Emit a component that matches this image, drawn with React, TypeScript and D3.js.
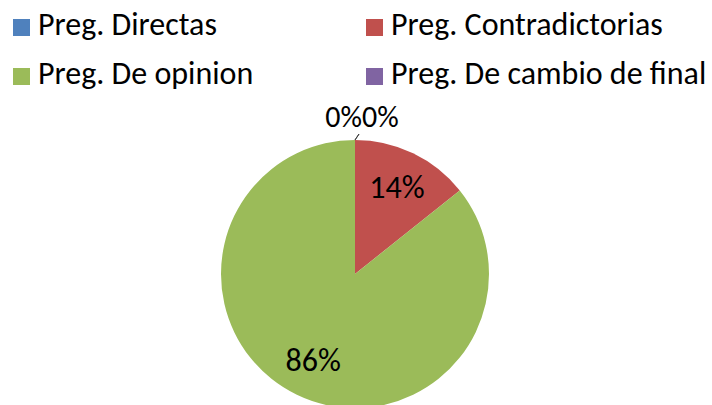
import React, { useEffect, useRef } from 'react';
import * as d3 from 'd3';

const categories = ['Preg. Directas', 'Preg. Contradictorias', 'Preg. De opinion', 'Preg. De cambio de final'];
const values = [0, 1, 6, 0];
const colors = ['#4F81BD', '#C0504D', '#9BBB59', '#8064A2'];

const App = () => {
  const svg = useRef(null);
  const width = 712;
  const height = 405;
  const cx = 355;
  const cy = 274;
  const radius = 134;
  const font = "Calibri, Carlito, 'Noto Sans', sans-serif";

  const renderChart = (svgSel: any) => {
    svgSel.selectAll('*').remove();
    const total = d3.sum(values);
    const pie = d3.pie<number>().sort(null).value(d => d);
    const arcs = pie(values);
    const arc = d3.arc<any>().innerRadius(0).outerRadius(radius);
    const labelArc = d3.arc<any>().innerRadius(radius * 0.72).outerRadius(radius * 0.72);

    const g = svgSel.append('g').attr('transform', `translate(${cx},${cy})`);

    g.selectAll('.slice')
      .data(arcs)
      .enter()
      .append('path')
      .attr('class', 'slice')
      .attr('d', arc)
      .attr('fill', (d: any, i: number) => colors[i]);

    const pct = (v: number) => `${Math.round((v / total) * 100)}%`;

    arcs.forEach((d: any, i: number) => {
      if (d.value > 0) {
        const [x, y] = labelArc.centroid(d);
        g.append('text')
          .attr('x', x)
          .attr('y', y)
          .attr('text-anchor', 'middle')
          .attr('dominant-baseline', 'central')
          .attr('font-family', font)
          .attr('font-size', 32)
          .attr('fill', '#000')
          .text(pct(d.value));
      } else {
        // zero slices: label outside with small leader line
        const a = d.startAngle;
        const x0 = Math.sin(a) * radius;
        const y0 = -Math.cos(a) * radius;
        const x1 = x0 + 4;
        const y1 = y0 - 6;
        g.append('line')
          .attr('x1', x0).attr('y1', y0)
          .attr('x2', x1).attr('y2', y1)
          .attr('stroke', '#404040')
          .attr('stroke-width', 1);
        const first = i === 0;
        g.append('text')
          .attr('x', x1 + 3)
          .attr('y', y1 - 7)
          .attr('text-anchor', first ? 'end' : 'start')
          .attr('font-family', font)
          .attr('font-size', 30)
          .attr('fill', '#000')
          .text(pct(d.value));
      }
    });

    const legend = svgSel.append('g');
    const items = legend
      .selectAll('.item')
      .data(categories)
      .enter()
      .append('g')
      .attr('class', 'item')
      .attr('transform', (d: string, i: number) => `translate(${i % 2 === 0 ? 13 : 366},${i < 2 ? 19 : 68})`);

    items.append('rect')
      .attr('width', 17)
      .attr('height', 17)
      .attr('fill', (d: string, i: number) => colors[i]);

    items.append('text')
      .attr('x', 25)
      .attr('y', 16)
      .attr('font-family', font)
      .attr('font-size', 32)
      .attr('fill', '#000')
      .text((d: string) => d);
  };

  useEffect(() => {
    renderChart(d3.select(svg.current));
  }, []);

  return (
    <svg
      ref={svg}
      width={width}
      height={height}
      style={{ position: 'absolute', left: 0, top: 0, background: '#fff' }}
    />
  );
};

export default App;
